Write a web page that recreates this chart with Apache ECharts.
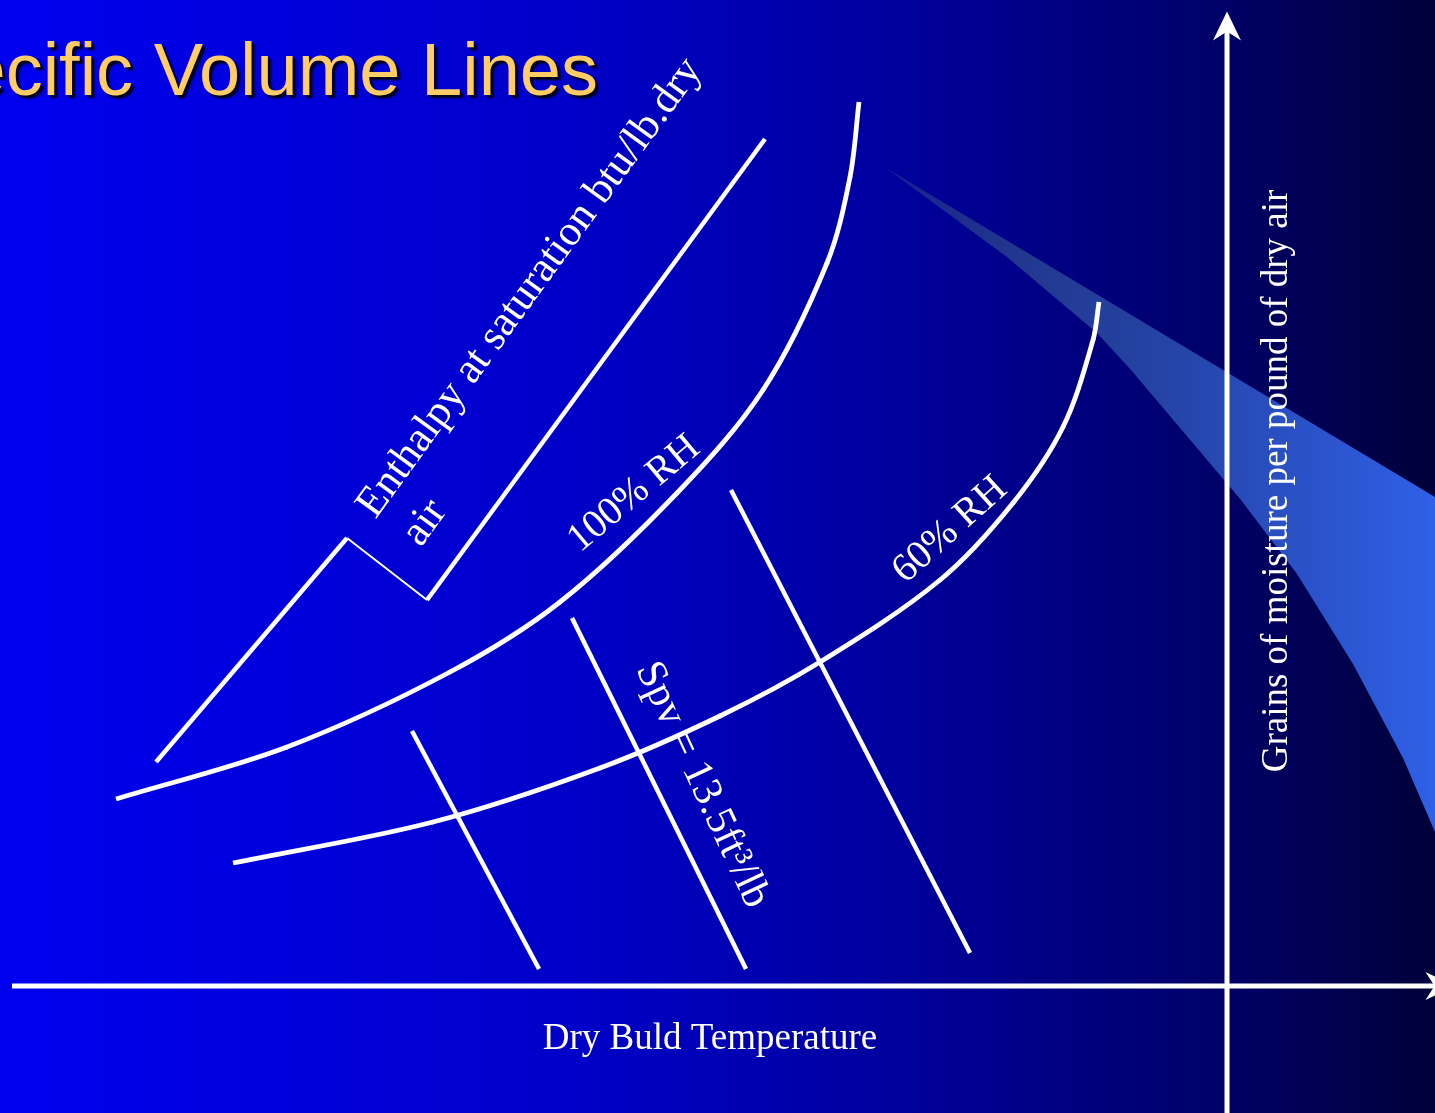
<!DOCTYPE html>
<html>
<head>
<meta charset="utf-8">
<script src="https://cdn.jsdelivr.net/npm/echarts@6/dist/echarts.min.js"></script>
<style>
html,body{margin:0;padding:0;overflow:hidden;background:linear-gradient(to right,#0000f0 0%,#0000c8 40%,#00009e 62%,#000068 85%,#00003a 100%);}
#c{width:1435px;height:1113px;}
</style>
</head>
<body>
<div id="c"></div>
<script>
// ---- data (diagram space: x to the right, y downward) ----
const titleText = 'Specific Volume Lines';

const enthalpyLeft  = [[156,762],[347,538]];
const enthalpyNotch = [[347,538],[427,600]];
const enthalpyRight = [[427,600],[765,139]];

const rh100 = [[116,799],[287,747],[450,672],[560,602],[677,493],[763,390],[827,263],[850,177],[859,102]];
const rh60  = [[233,863],[433,822],[600,768],[720,716],[820,662],[940,580],[1013,503],[1063,427],[1093,340],[1099,302]];

const spv1 = [[412,731],[539,969]];
const spv2 = [[572,618],[746,969]];
const spv3 = [[731,490],[970,953]];

const axisX = [[12,986],[1440,986]];
const axisY = [[1227,1113],[1227,26]];

const wedgeUpper = [[886,168],[1435,497]];
const wedgeLower = [[1435,832],[1403,758],[1353,664],[1297,574],[1241,500],[1131,370],[1097,333],[1007,257],[886,168]];

const labelTexts   = ['Enthalpy at saturation btu/lb.dry','air','100% RH','60% RH','Spv = 13.5ft\u00b3/lb','Dry Buld Temperature','Grains of moisture per pound of dry air'];
const labelAnchors = [[530,288],[425,523],[634,494],[950,530],[702,785],[710,1039],[1277,481]];

// ---- styles ----
const labelStyle = [
  {rotate:54, size:43},
  {rotate:54, size:43},
  {rotate:40, size:40},
  {rotate:42, size:40},
  {rotate:-65, size:42},
  {rotate:0, size:37},
  {rotate:90, size:37}
];
const arrowPath = 'path://M0,0 L14,29 L0,20 L-14,29 Z';

const chart = echarts.init(document.getElementById('c'), null, {renderer:'canvas'});

function whiteLine(data, width, extra) {
  return Object.assign({
    type:'line', data:data, symbol:'none', silent:true, z:3,
    lineStyle:{color:'#ffffff', width:width, cap:'butt'},
    itemStyle:{color:'#ffffff', opacity:1}
  }, extra || {});
}

// smooth curve through the data points (chord-length Hermite), drawn in axis coordinates
function curveSeries(points, width) {
  return {
    type:'custom', silent:true, z:3, clip:false, data:[0],
    renderItem:function(params, api){
      const p = points.map(function(q){return api.coord(q);});
      const n = p.length;
      const dist = [];
      for (let i=0;i<n-1;i++) dist.push(Math.hypot(p[i+1][0]-p[i][0], p[i+1][1]-p[i][1]));
      const tan = p.map(function(pt,i){
        if (i===0) return [(p[1][0]-p[0][0])/dist[0], (p[1][1]-p[0][1])/dist[0]];
        if (i===n-1) return [(p[n-1][0]-p[n-2][0])/dist[n-2], (p[n-1][1]-p[n-2][1])/dist[n-2]];
        const s = dist[i-1]+dist[i];
        return [(p[i+1][0]-p[i-1][0])/s, (p[i+1][1]-p[i-1][1])/s];
      });
      const children = [];
      for (let i=0;i<n-1;i++) {
        const k = dist[i]/3;
        children.push({
          type:'bezierCurve',
          shape:{x1:p[i][0], y1:p[i][1], x2:p[i+1][0], y2:p[i+1][1],
            cpx1:p[i][0]+tan[i][0]*k, cpy1:p[i][1]+tan[i][1]*k,
            cpx2:p[i+1][0]-tan[i+1][0]*k, cpy2:p[i+1][1]-tan[i+1][1]*k},
          style:{fill:null, stroke:'#ffffff', lineWidth:width, lineCap:(i===0||i===n-2)?'butt':'round'}
        });
      }
      return {type:'group', children:children};
    }
  };
}

const wedgeOutline = wedgeUpper.concat(wedgeLower);

const option = {
  animation:false,
  backgroundColor:{type:'linear',x:0,y:0,x2:1,y2:0,colorStops:[
    {offset:0,color:'#0000f0'},{offset:0.4,color:'#0000c8'},{offset:0.62,color:'#00009e'},
    {offset:0.85,color:'#000068'},{offset:1,color:'#00003a'}]},
  title:{
    text:titleText, left:-126, top:38, padding:0,
    textStyle:{color:'#FFCC66', fontFamily:'Liberation Sans', fontSize:74, fontWeight:'normal',
      textShadowColor:'rgba(0,0,0,0.9)', textShadowBlur:2, textShadowOffsetX:3, textShadowOffsetY:3}
  },
  grid:{left:0,right:0,top:0,bottom:0},
  xAxis:{type:'value',min:0,max:1435,show:false},
  yAxis:{type:'value',min:0,max:1113,inverse:true,show:false},
  series:[
    {
      type:'custom', silent:true, z:1, clip:false,
      data:[0],
      renderItem:function(params, api){
        const pts = wedgeOutline.map(function(p){return api.coord(p);});
        return {
          type:'polygon',
          shape:{points:pts},
          style:{fill:new echarts.graphic.LinearGradient(0,0,1,0,[
            {offset:0,color:'rgba(40,60,140,0.55)'},
            {offset:0.25,color:'#22388f'},
            {offset:0.5,color:'#2443a4'},
            {offset:0.75,color:'#2a51c6'},
            {offset:1,color:'#2f60e6'}])}
        };
      }
    },
    whiteLine(enthalpyLeft, 4.5),
    whiteLine(enthalpyNotch, 2),
    whiteLine(enthalpyRight, 4.5),
    curveSeries(rh100, 4.8),
    curveSeries(rh60, 4.8),
    whiteLine(spv1, 4.5),
    whiteLine(spv2, 4.5),
    whiteLine(spv3, 4.5),
    whiteLine([
      {value:axisX[0], symbol:'none'},
      {value:axisX[1], symbol:arrowPath, symbolSize:[28,29], symbolRotate:-90}
    ], 5, {clip:false, z:4}),
    whiteLine([
      {value:axisY[0], symbol:'none'},
      {value:axisY[1], symbol:arrowPath, symbolSize:[28,29], symbolRotate:0}
    ], 5, {clip:false, z:4}),
    {
      type:'scatter', silent:true, z:6, symbolSize:0, clip:false,
      itemStyle:{opacity:1},
      data:labelTexts.map(function(t,i){
        return {
          name:t, value:labelAnchors[i],
          label:{show:true, position:'inside', formatter:'{b}', rotate:labelStyle[i].rotate,
            fontSize:labelStyle[i].size, align:'center', verticalAlign:'middle'}
        };
      }),
      label:{show:true, color:'#ffffff', opacity:1, fontFamily:'Liberation Serif', fontWeight:'normal'}
    }
  ]
};
chart.setOption(option);
</script>
</body>
</html>
